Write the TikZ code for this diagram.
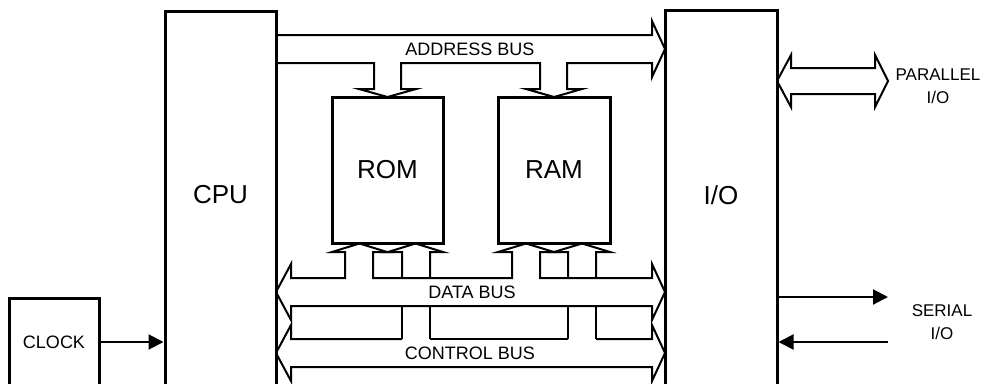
\documentclass[tikz,border=0pt]{standalone}
\usepackage{fontspec}
\setmainfont{Liberation Sans}
\usetikzlibrary{arrows.meta}
\begin{document}
\begin{tikzpicture}[x=1pt,y=-1pt,
  unitbox/.style={draw,line width=3pt,inner sep=0pt,anchor=center},
  bigtext/.style={font=\fontsize{26}{30}\selectfont,inner sep=0pt},
  bustext/.style={font=\fontsize{18}{22}\selectfont,inner sep=0pt},
  sidetext/.style={font=\fontsize{17}{22.5}\selectfont,align=center,inner sep=0pt},
  busline/.style={line width=2pt,line join=miter},
  sig/.style={line width=2pt,-{Triangle[length=15pt,width=15pt]}}]
\useasboundingbox (0,0) rectangle (993,383);
\clip (0,0) rectangle (993,383);
% units
\node[unitbox,minimum width=111,minimum height=374] (cpu) at (220.5,198) {};
\node[bigtext] (cputext) at (220.5,195) {CPU};
\node[unitbox,minimum width=112,minimum height=375] (io) at (721,197.5) {};
\node[bigtext] (iotext) at (721,195) {I/O};
\node[unitbox,minimum width=111,minimum height=146,bigtext] (rom) at (387.5,170) {ROM};
\node[unitbox,minimum width=112,minimum height=146,bigtext] (ram) at (554,170) {RAM};
\node[unitbox,minimum width=90,minimum height=88,bustext] (clock) at (54,342) {CLOCK};
% address bus
\draw[busline] (276,35) -- (652,35) -- (652,21) -- (665,49) -- (652,77) -- (652,63)
  -- (567,63) -- (567,89) -- (582,89) -- (554,97) -- (526,89) -- (540,89) -- (540,63)
  -- (401,63) -- (401,89) -- (416,89) -- (387.5,97) -- (359,89) -- (374,89) -- (374,63)
  -- (276,63);
\node[bustext] (abus) at (470,49) {ADDRESS BUS};
% data bus
\draw[busline] (291,278) -- (345,278) -- (345,252) -- (332,252) -- (359.5,243.5) -- (387,252)
  -- (373,252) -- (373,278) -- (512,278) -- (512,252) -- (498,252) -- (526,243.5) -- (554,252)
  -- (540,252) -- (540,278) -- (652,278) -- (652,264) -- (665,292) -- (652,320) -- (652,306)
  -- (291,306) -- (291,320) -- (276,292) -- (291,264) -- cycle;
\node[bustext] (dbus) at (472,292) {DATA BUS};
% control lines to ROM and RAM
\draw[busline] (402,278) -- (402,252) -- (388,252) -- (415.5,243.5) -- (443,252) -- (430,252) -- (430,278);
\draw[busline] (568,278) -- (568,252) -- (554,252) -- (582,243.5) -- (610,252) -- (596,252) -- (596,278);
\draw[busline] (402,306) -- (402,339) (430,306) -- (430,339)
  (568,306) -- (568,339) (596,306) -- (596,339);
% control bus
\draw[busline] (402,339) -- (291,339) -- (291,325) -- (276,353) -- (291,381) -- (291,367)
  -- (652,367) -- (652,381) -- (665,353) -- (652,325) -- (652,339) -- (596,339);
\draw[busline] (430,339) -- (568,339);
\node[bustext] (cbus) at (470,353) {CONTROL BUS};
% parallel I/O
\draw[busline] (777,81) -- (791,55) -- (791,68) -- (875,68) -- (875,55) -- (888,81)
  -- (875,107) -- (875,94) -- (791,94) -- (791,107) -- cycle;
\node[sidetext] (partext) at (938,86) {PARALLEL\\I/O};
% serial I/O
\coordinate (serout) at (888,297);
\coordinate (serin) at (888,342);
\draw[sig] (io.east |- serout) -- (serout);
\draw[sig] (serin) -- (io.east |- serin);
\node[sidetext] (sertext) at (942,322) {SERIAL\\I/O};
% clock
\draw[sig] (clock.east) -- (cpu.west |- clock.east);
\end{tikzpicture}
\end{document}
